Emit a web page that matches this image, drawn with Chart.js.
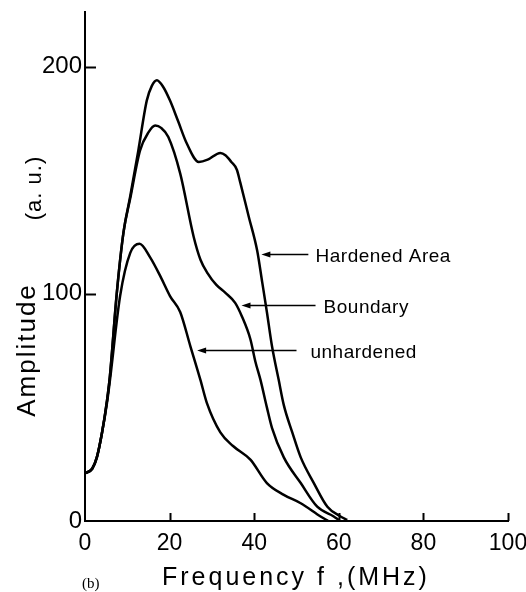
<!DOCTYPE html>
<html><head><meta charset="utf-8">
<script src="https://cdn.jsdelivr.net/npm/chart.js@4.4.1/dist/chart.umd.min.js"></script>
<style>html,body{margin:0;padding:0;background:#fff}</style>
</head><body>
<canvas id="c" width="526" height="592"></canvas>
<script>
const xTicks = [0, 20, 40, 60, 80, 100];
const yTicks = [0, 100, 200];

const hardF = [0, 1.7, 2.8, 4, 5.2, 5.9, 7.5, 9.1, 10.7, 12.6, 14.6, 15.8, 17, 18.5, 20.1, 22, 24.1, 26.9, 29, 32, 33.2, 34.6, 35.9, 36.7, 38.7, 40.7, 41.9, 43, 44.2, 45.8, 47, 49, 51, 54.1, 57.3, 60.4, 62];
const hardA = [21, 23, 28, 38.6, 53, 64, 100, 127, 143, 163, 185, 191.5, 194, 191, 185, 176, 166, 158, 159, 162, 161, 158, 154.6, 149, 134, 119, 105, 92, 77, 62, 51, 39, 28, 16.7, 6.3, 2, 0.5];

const bndF = [0, 1.7, 2.8, 4, 5.2, 5.9, 7.5, 9.1, 10.7, 13, 15, 16.6, 18, 19.7, 22.5, 25.7, 27.3, 29, 31, 33.2, 35.5, 37.1, 39.1, 40.3, 41.5, 43, 44.2, 47, 51, 54.9, 58.8, 60];
const bndA = [21, 23, 28, 38.6, 53, 64, 100, 127, 142, 163, 171, 174, 173, 169, 153, 125, 115, 109, 104, 100.4, 96, 90, 80, 70, 62, 50, 41, 28, 16.7, 6.3, 2, 0.5];

const unhF = [0, 1.7, 2.8, 4, 5.2, 5.9, 8.3, 10.7, 12.9, 15.4, 18, 20.1, 22.5, 24.9, 27.3, 28.8, 32, 35, 39.1, 43, 47, 51, 55.7, 57.5];
const unhA = [21, 23, 28, 38.6, 52, 62, 99, 118, 122, 116, 107, 99, 92, 77, 62, 52, 39, 33, 27, 16.7, 11.5, 7.8, 2, 0];

const seriesNames = ['Hardened Area', 'Boundary', 'unhardened'];
// arrow target (f, amplitude), tail f, text f
const noteTipF = [41.7, 37.0, 26.5];
const noteTipA = [117.5, 95.2, 75.3];
const noteTailF = [52.8, 54.5, 50.0];
const noteTextF = [54.5, 56.4, 53.3];

function pts(f, a) { return f.map((v, i) => ({x: v, y: a[i]})); }

const lineStyle = {borderColor: '#000', borderWidth: 2.5, pointRadius: 0, fill: false, cubicInterpolationMode: 'monotone'};

const decor = {
  id: 'decor',
  afterDraw(chart) {
    const ctx = chart.ctx, xs = chart.scales.x, ys = chart.scales.y;
    const ca = chart.chartArea;
    ctx.save();
    ctx.strokeStyle = '#000';
    ctx.lineWidth = 2;
    // inner tick marks
    xTicks.forEach(v => { if (v === 0) return; const px = Math.round(xs.getPixelForValue(v)) + 0.5;
      ctx.beginPath(); ctx.moveTo(px, ca.bottom); ctx.lineTo(px, ca.bottom - 8); ctx.stroke(); });
    yTicks.forEach(v => { if (v === 0) return; const py = Math.round(ys.getPixelForValue(v)) + 0.5;
      ctx.beginPath(); ctx.moveTo(ca.left, py); ctx.lineTo(ca.left + 11, py); ctx.stroke(); });
    // annotations
    ctx.fillStyle = '#000';
    ctx.lineWidth = 1.3;
    ctx.font = '19px "Liberation Sans", Arial, sans-serif';
    ctx.letterSpacing = '0.5px';
    ctx.textBaseline = 'alphabetic';
    ctx.textAlign = 'left';
    seriesNames.forEach((name, i) => {
      const tx = xs.getPixelForValue(noteTipF[i]);
      const ty = Math.round(ys.getPixelForValue(noteTipA[i])) + 0.5;
      const tail = xs.getPixelForValue(noteTailF[i]);
      ctx.beginPath(); ctx.moveTo(tail, ty); ctx.lineTo(tx + 6, ty); ctx.stroke();
      ctx.beginPath(); ctx.moveTo(tx, ty); ctx.lineTo(tx + 9, ty - 3); ctx.lineTo(tx + 9, ty + 3); ctx.closePath(); ctx.fill();
      ctx.fillText(name, xs.getPixelForValue(noteTextF[i]), ty + 7);
    });
    // axis titles
    ctx.letterSpacing = '2px';
    ctx.font = '26px "Liberation Sans", Arial, sans-serif';
    ctx.save();
    ctx.translate(35, 350);
    ctx.rotate(-Math.PI / 2);
    ctx.textAlign = 'center';
    ctx.textBaseline = 'alphabetic';
    ctx.fillText('Amplitude', 0, 0);
    ctx.restore();
    ctx.save();
    ctx.letterSpacing = '1px';
    ctx.font = '22px "Liberation Sans", Arial, sans-serif';
    ctx.translate(41, 188);
    ctx.rotate(-Math.PI / 2);
    ctx.textAlign = 'center';
    ctx.fillText('(a. u.)', 0, 0);
    ctx.restore();
    ctx.letterSpacing = '3px';
    ctx.font = '25px "Liberation Sans", Arial, sans-serif';
    ctx.textAlign = 'left';
    ctx.fillText('Frequency f ,(MHz)', 162, 585);
    ctx.letterSpacing = '0px';
    ctx.font = '15px "Liberation Serif", "Times New Roman", serif';
    ctx.fillText('(b)', 82, 588);
    ctx.restore();
  }
};

new Chart(document.getElementById('c'), {
  type: 'line',
  data: {
    datasets: [
      Object.assign({label: seriesNames[0], data: pts(hardF, hardA)}, lineStyle),
      Object.assign({label: seriesNames[1], data: pts(bndF, bndA)}, lineStyle),
      Object.assign({label: seriesNames[2], data: pts(unhF, unhA)}, lineStyle)
    ]
  },
  options: {
    responsive: false,
    animation: false,
    devicePixelRatio: 1,
    layout: {padding: {top: 12, right: 18, left: 0, bottom: 0}},
    plugins: {legend: {display: false}, tooltip: {enabled: false}},
    scales: {
      x: {
        type: 'linear', min: 0, max: 100,
        afterFit(s) { s.height = 71; s.paddingLeft = 0; s.paddingRight = 0; },
        afterBuildTicks(s) { s.ticks = xTicks.map(v => ({value: v})); },
        grid: {display: true, drawOnChartArea: false, drawTicks: false},
        border: {display: true, color: '#000', width: 2},
        ticks: {color: '#000', padding: 9, maxRotation: 0, autoSkip: false,
          font: {family: '"Liberation Sans", Arial, sans-serif', size: 23}}
      },
      y: {
        type: 'linear', min: 0, max: 224,
        afterFit(s) { s.width = 85; s.paddingTop = 0; s.paddingBottom = 0; },
        afterBuildTicks(s) { s.ticks = yTicks.map(v => ({value: v})); },
        grid: {display: true, drawOnChartArea: false, drawTicks: false},
        border: {display: true, color: '#000', width: 2},
        ticks: {color: '#000', padding: 3, autoSkip: false,
          font: {family: '"Liberation Sans", Arial, sans-serif', size: 24}}
      }
    }
  },
  plugins: [decor]
});
</script>
</body></html>
